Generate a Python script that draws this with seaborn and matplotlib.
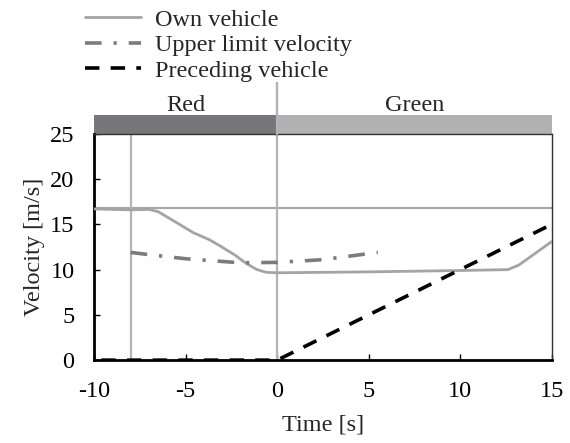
import matplotlib
matplotlib.use("Agg")
import matplotlib.pyplot as plt
import seaborn as sns
import pandas as pd
from matplotlib.patches import Rectangle

# values
own_t = [-10, -8, -7, -6.5, -5.5, -4.6, -3.7, -3.1, -2.3, -1.7, -1.1, -0.6, 0, 5, 10, 12.6, 13.2, 15]
own_v = [16.7, 16.6, 16.65, 16.4, 15.2, 14.1, 13.3, 12.6, 11.6, 10.7, 10.0, 9.7, 9.65, 9.75, 9.9, 10.0, 10.5, 13.1]
upper_t = [-8, -7.2, -5, -2, 0, 2.5, 5.5]
upper_v = [11.9, 11.7, 11.2, 10.75, 10.8, 11.1, 11.9]
prec_t = [-9.6, 0, 15]
prec_v = [0, 0, 15]
limit_v = 16.8
marker_t = -8
phases = ["Red", "Green"]
phase_start = [-10, 0]
phase_end = [0, 15]
phase_colors = ["#77777b", "#b1b1b4"]

sns.set_style("ticks")
plt.rcParams['font.family'] = ['Liberation Serif', 'DejaVu Serif']
plt.rcParams['axes.unicode_minus'] = False
fs = 17.5

fig = plt.figure(figsize=(5.7, 4.43), dpi=100)
ax = fig.add_axes([0.165, 0.187, 0.803, 0.511])

own = pd.DataFrame({'t': own_t, 'v': own_v})
upper = pd.DataFrame({'t': upper_t, 'v': upper_v})
prec = pd.DataFrame({'t': prec_t, 'v': prec_v})

ax.axhline(limit_v, color='#a8a8a8', lw=1.6, zorder=1)
ax.axvline(marker_t, color='#b4b4b4', lw=1.6, zorder=1)
ax.plot([0, 0], [0, 30.6], color='#b4b4b4', lw=1.6, clip_on=False, zorder=1)

sns.lineplot(data=own, x='t', y='v', ax=ax, color='#a4a4a4', lw=2,
             label='Own vehicle', zorder=3)
sns.lineplot(data=upper, x='t', y='v', ax=ax, color='#7c7c7c', lw=2.6,
             label='Upper limit velocity', zorder=3)
ax.lines[-1].set_dashes([4.6, 3.3, 0.9, 3.3])
sns.lineplot(data=prec, x='t', y='v', ax=ax, color='black', lw=2.6,
             label='Preceding vehicle', zorder=4)
ax.lines[-1].set_dashes([4, 3.1])

# signal phase bar above the axes
for name, s, e, c in zip(phases, phase_start, phase_end, phase_colors):
    ax.add_patch(Rectangle((s, 25), e - s, 2.1, color=c, clip_on=False, lw=0))
    ax.text((s + e) / 2, 27.5, name, ha='center', va='baseline', fontsize=fs)
ax.plot([0, 0], [25, 30.6], color='#b4b4b4', lw=1.6, clip_on=False, zorder=5)

ax.set_xlim(-10, 15)
ax.set_ylim(0, 25)
ax.set_xticks([-10, -5, 0, 5, 10, 15])
ax.set_yticks([0, 5, 10, 15, 20, 25])
ax.tick_params(direction='in', length=4, width=1, labelsize=fs, colors='black')
ax.tick_params(axis='y', pad=14)
ax.tick_params(axis='x', pad=15)
ax.set_xlabel('Time [s]', fontsize=fs, labelpad=9)
ax.set_ylabel('Velocity [m/s]', fontsize=fs, labelpad=4)

for side in ['left', 'bottom']:
    ax.spines[side].set_linewidth(2)
    ax.spines[side].set_color('black')
for side in ['top', 'right']:
    ax.spines[side].set_visible(True)
    ax.spines[side].set_linewidth(1)
    ax.spines[side].set_color('#333333')

ax.legend(loc='lower left', bbox_to_anchor=(-0.04, 1.187), frameon=False,
          fontsize=fs, handlelength=2.3, handletextpad=0.55, labelspacing=0.14,
          borderaxespad=0)

fig.savefig('out.png', dpi=100)
